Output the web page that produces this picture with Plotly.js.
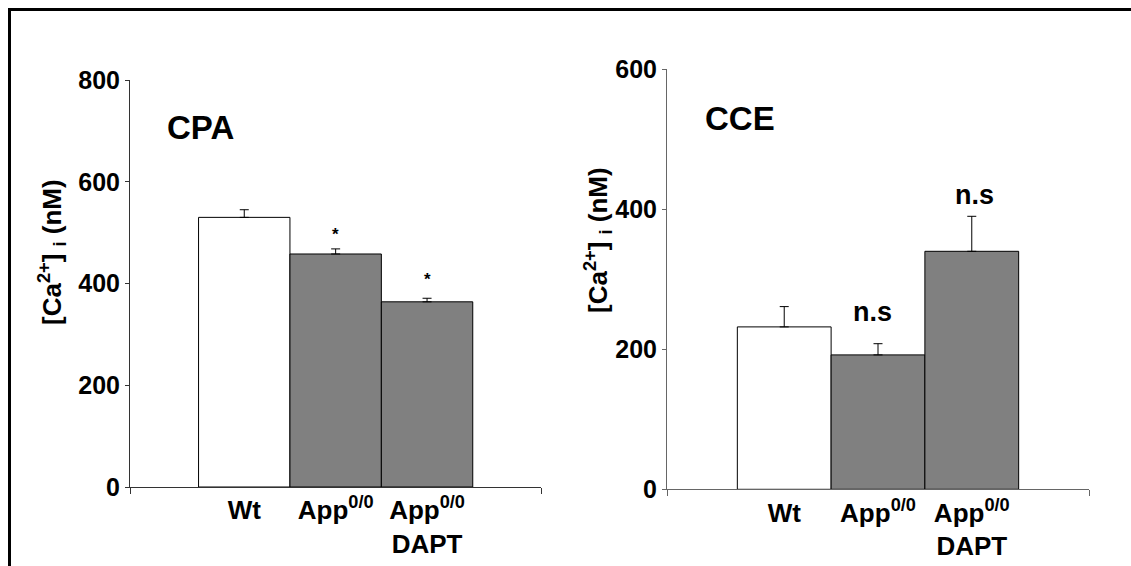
<!DOCTYPE html>
<html>
<head>
<meta charset="utf-8">
<script src="https://cdn.plot.ly/plotly-3.0.1.min.js"></script>
<style>html,body{margin:0;padding:0;background:#fff;}#chart{width:1131px;height:566px;}</style>
</head>
<body>
<div id="chart"></div>
<script>
// ---- data ----
const categories = ["Wt", "App<sup>0/0</sup>", "App<sup>0/0</sup><br>DAPT"];
const cpaValues = [530, 458, 364];
const cpaErrors = [15, 10, 7];
const cceValues = [232, 192, 340];
const cceErrors = [29, 16, 50];
const barColors = ["#ffffff", "#808080", "#808080"];
const cpaSig = ["", "*", "*"];
const cceSig = ["", "n.s", "n.s"];
const panelTitles = ["CPA", "CCE"];
const yTitle = "[Ca<sup>2+</sup>] <sub>i</sub> (nM)";

const idx = categories.map((_, i) => i);
const FONT = "Liberation Sans, Arial, sans-serif";

function barTrace(vals, errs, xa, ya) {
  return {
    type: "bar", x: idx, y: vals, xaxis: xa, yaxis: ya, width: 1,
    marker: {color: barColors, line: {color: "#000", width: 1}},
    error_y: {type: "data", array: errs, arrayminus: errs.map(() => 0), symmetric: false,
              color: "#000", thickness: 1, width: 4.5},
    hoverinfo: "none", showlegend: false
  };
}

const data = [
  barTrace(cpaValues, cpaErrors, "x", "y"),
  barTrace(cceValues, cceErrors, "x2", "y2")
];

function xAxis(domain, anchor, lineColor) {
  return {
    domain: domain, anchor: anchor, range: [-1.25, 3.25],
    tickmode: "array", tickvals: idx, ticktext: categories, ticks: "",
    tickfont: {family: FONT, size: 26, color: "#000", weight: "bold"},
    showline: true, linecolor: lineColor, linewidth: 1, showgrid: false, zeroline: false,
    minor: {tickmode: "array", tickvals: [-1.25, 3.25], ticks: "outside", ticklen: 6, tickcolor: lineColor, tickwidth: 1, showgrid: false},
    fixedrange: true
  };
}
function yAxis(domain, anchor, range, dtick, lineColor) {
  return {
    domain: domain, anchor: anchor, range: range, dtick: dtick, tick0: 0,
    ticks: "outside", ticklen: 4, tickcolor: lineColor, tickwidth: 1,
    tickfont: {family: FONT, size: 25, color: "#000", weight: "bold"},
    showline: true, linecolor: lineColor, linewidth: 1, showgrid: false, zeroline: false,
    fixedrange: true
  };
}

const annotations = [
  {text: "<b>" + panelTitles[0] + "</b>", xref: "paper", yref: "paper", x: 200 / 1131, y: (566 - 127) / 566,
   xanchor: "center", yanchor: "middle", showarrow: false, font: {family: FONT, size: 33, color: "#000"}},
  {text: "<b>" + panelTitles[1] + "</b>", xref: "paper", yref: "paper", x: 740 / 1131, y: (566 - 118) / 566,
   xanchor: "center", yanchor: "middle", showarrow: false, font: {family: FONT, size: 33, color: "#000"}},
  {text: "<b>" + yTitle + "</b>", xref: "paper", yref: "paper", x: 52 / 1131, y: (566 - 252) / 566,
   xanchor: "center", yanchor: "middle", textangle: -90, showarrow: false, font: {family: FONT, size: 26, color: "#000"}},
  {text: "<b>" + yTitle + "</b>", xref: "paper", yref: "paper", x: 598 / 1131, y: (566 - 240) / 566,
   xanchor: "center", yanchor: "middle", textangle: -90, showarrow: false, font: {family: FONT, size: 26, color: "#000"}}
];
const cpaSigY = [0, 497, 408];
const cceSigY = [0, 253, 421];
const cceSigShift = [0, -6, 3];
cpaSig.forEach((s, i) => { if (s) annotations.push({text: "<b>" + s + "</b>", xref: "x", yref: "y", x: i, y: cpaSigY[i], showarrow: false, font: {family: FONT, size: 17, color: "#000"}}); });
cceSig.forEach((s, i) => { if (s) annotations.push({text: "<b>" + s + "</b>", xref: "x2", yref: "y2", x: i, y: cceSigY[i], xshift: cceSigShift[i], showarrow: false, font: {family: FONT, size: 27, color: "#000"}}); });

const layout = {
  width: 1131, height: 566,
  margin: {l: 0, r: 0, t: 0, b: 0},
  paper_bgcolor: "#fff", plot_bgcolor: "rgba(0,0,0,0)",
  bargap: 0,
  xaxis: xAxis([130 / 1131, 541.3 / 1131], "y", "#333"),
  yaxis: yAxis([(566 - 487) / 566, (566 - 80) / 566], "x", [0, 800], 200, "#333"),
  xaxis2: xAxis([667 / 1131, 1089 / 1131], "y2", "#666"),
  yaxis2: yAxis([(566 - 489.3) / 566, (566 - 69.3) / 566], "x2", [0, 600], 200, "#666"),
  annotations: annotations,
  shapes: [
    {type: "path", xref: "paper", yref: "paper",
     path: "M " + (9.5 / 1131) + " -0.05 L " + (9.5 / 1131) + " " + ((566 - 9.5) / 566) + " L 1.05 " + ((566 - 9.5) / 566),
     line: {color: "#000", width: 3}}
  ]
};

Plotly.newPlot("chart", data, layout, {staticPlot: true, displayModeBar: false});
</script>
</body>
</html>
